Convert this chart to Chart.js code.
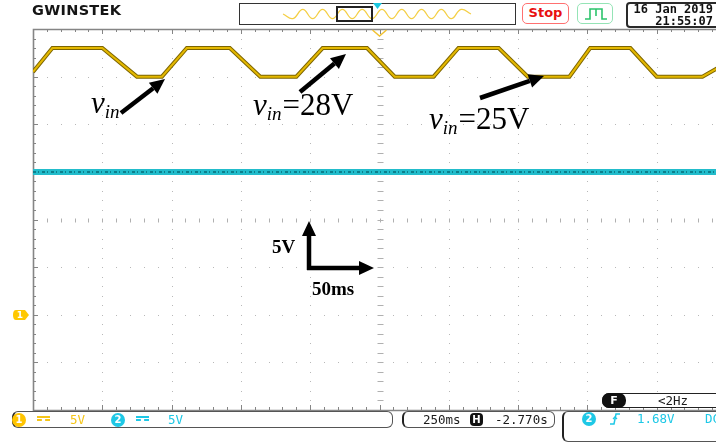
<!DOCTYPE html>
<html>
<head>
<meta charset="utf-8">
<script src="https://cdn.jsdelivr.net/npm/chart.js@4"></script>
<style>
body { margin:0; width:716px; height:444px; overflow:hidden; background:#fff; position:relative;
       font-family:"DejaVu Sans Mono", monospace; }
#scope { position:absolute; left:0; top:0; }
.box { position:absolute; box-sizing:border-box; background:#fff; }
.txt { position:absolute; white-space:nowrap; font-size:12.5px; line-height:14px; }
.dot { position:absolute; width:14px; height:14px; border-radius:50%; color:#fff; font:bold 10px "DejaVu Sans";
       text-align:center; line-height:14px; }
.dc { position:absolute; width:13px; height:5px; border-top:2px solid; border-bottom:2px dashed; box-sizing:border-box; }
</style>
</head>
<body>
<canvas id="scope" width="740" height="444"></canvas>

<!-- header -->
<div class="txt" style="left:32px;top:2px;font:bold 14.5px 'DejaVu Sans';letter-spacing:0.3px;color:#151515">GWINSTEK</div>
<div class="box" style="left:239px;top:3px;width:277px;height:22px;border:1.5px solid #333;background:transparent"></div>
<canvas id="mini" width="190" height="14" style="position:absolute;left:282px;top:7px"></canvas>
<div class="box" style="left:336px;top:6px;width:37px;height:16px;border:2.5px solid #222;background:transparent"></div>
<svg style="position:absolute;left:373px;top:3px" width="9" height="7"><polygon points="0,0 9,0 4.5,6" fill="#19c6e0"/></svg>
<div class="box" style="left:522px;top:3px;width:47px;height:21px;border:1.5px solid #ff7070;border-radius:5px;
     color:#e81010;font:bold 13px 'DejaVu Sans';text-align:center;line-height:18px">Stop</div>
<div class="box" style="left:577px;top:3px;width:36px;height:21px;border:1.5px solid #95e4b6;border-radius:5px">
  <svg style="position:absolute;left:6px;top:2px" width="24" height="16">
    <polyline points="1,13 6,13 6,3 18,3 18,13 23,13" fill="none" stroke="#2cc46c" stroke-width="1.6"/>
    <polyline points="12,3 12,10" fill="none" stroke="#2cc46c" stroke-width="1.6"/>
  </svg>
</div>
<div class="box" style="left:626px;top:2px;width:100px;height:26px;border:2px solid #2a2a2a;border-radius:4px"></div>
<div class="txt" style="right:3px;top:2px;font-weight:bold;font-size:12px;color:#111">16 Jan 2019</div>
<div class="txt" style="right:3px;top:14px;font-weight:bold;font-size:12px;color:#111">21:55:07</div>

<!-- status bar -->
<div class="box" style="left:12px;top:411px;width:381px;height:17px;border:1.5px solid #555;border-left:2.5px solid #222;border-radius:6px"></div>
<div class="dot" style="left:12px;top:413px;background:#ffc400">1</div>
<div class="dc" style="left:37px;top:416px;color:#f5c518"></div>
<div class="txt" style="left:70px;top:413px;color:#f5c518">5V</div>
<div class="dot" style="left:111px;top:413px;background:#1ec8e6">2</div>
<div class="dc" style="left:136px;top:416px;color:#1ec8e6"></div>
<div class="txt" style="left:168px;top:413px;color:#1ec8e6">5V</div>

<div class="box" style="left:402px;top:411px;width:153px;height:17px;border:1.5px solid #555;border-left:2.5px solid #222;border-radius:6px"></div>
<div class="txt" style="left:423px;top:413px;color:#1a1a1a">250ms</div>
<div class="box" style="left:470px;top:413px;width:13px;height:13px;background:#111;border-radius:4px;color:#fff;
     font:bold 10px 'DejaVu Sans';text-align:center;line-height:13px">H</div>
<div class="txt" style="left:495px;top:413px;color:#1a1a1a">-2.770s</div>

<div class="box" style="left:562px;top:411px;width:170px;height:31px;border:1.5px solid #555;border-left:2.5px solid #222;border-radius:6px"></div>
<div class="dot" style="left:582px;top:412px;background:#1ec8e6">2</div>
<svg style="position:absolute;left:609px;top:412px" width="12" height="14">
  <polyline points="1,12 5,12 7,2 11,2" fill="none" stroke="#1ec8e6" stroke-width="1.5"/>
  <polyline points="4,7 6,5 8,7" fill="none" stroke="#1ec8e6" stroke-width="1.3"/>
</svg>
<div class="txt" style="left:637px;top:412px;color:#1ec8e6">1.68V</div>
<div class="txt" style="left:705px;top:412px;color:#1ec8e6">DC</div>

<div class="box" style="left:602px;top:393px;width:130px;height:15px;border:1.5px solid #222;border-radius:7px"></div>
<div class="box" style="left:602px;top:393px;width:24px;height:15px;background:#111;border-radius:7px;color:#fff;
     font:bold 11px 'DejaVu Sans';text-align:center;line-height:15px">F</div>
<div class="txt" style="left:658px;top:394px;color:#1a1a1a">&lt;2Hz</div>

<script>
// timebase 250 ms/div, 10 divisions; both channels 5 V/div, 8 divisions
const MS_PER_DIV = 250;
const V_PER_DIV = 5;

// CH1 input voltage: flat tops near 28 V, flat bottoms near 25 V
const ch1Times = [0, 70, 250, 375, 465, 555, 710, 820, 950, 1045, 1205, 1305, 1445, 1535, 1680, 1785, 1935, 2010, 2155, 2250, 2415, 2500];
const ch1Volts = [25.5, 28, 28, 25, 25, 28, 28, 25, 25, 28, 28, 25, 25, 28, 28, 25, 25, 28, 28, 25, 25, 26.4];

// CH2 sits flat at its ground level
const ch2Times = [0, 2500];
const ch2Volts = [0, 0];

// memory overview strip (relative amplitude)
const miniWave = [0, -1, 1, -1, 1, -1, 1, -1, 1, -1, 1, -1, 1, -1, 1, -1, 1, -1, 1, 0];

const ch1Points = ch1Times.map((t, i) => ({ x: t, y: ch1Volts[i] }));
const ch2Points = ch2Times.map((t, i) => ({ x: t, y: ch2Volts[i] }));

const graticule = {
    id: 'graticule',
    beforeDatasetsDraw(chart) {
        const { ctx, chartArea: a, scales: { x, y } } = chart;
        ctx.save();
        ctx.fillStyle = '#b8b8b8';
        // dotted vertical division lines
        for (let k = 1; k < 10; k++) {
            const px = Math.round(x.getPixelForValue(k * MS_PER_DIV));
            for (let v = -10; v <= 30; v++)
                ctx.fillRect(px, Math.round(y.getPixelForValue(v)), 1, 1);
        }
        // dotted horizontal division lines
        for (let v = -5; v < 30; v += V_PER_DIV) {
            const py = Math.round(y.getPixelForValue(v));
            for (let t = 0; t <= 2500; t += 50)
                ctx.fillRect(Math.round(x.getPixelForValue(t)), py, 1, 1);
        }
        // minor ticks on the centre cross
        ctx.strokeStyle = '#b0b0b0';
        ctx.lineWidth = 1;
        const cx = Math.round(x.getPixelForValue(1250)) + 0.5;
        const cy = Math.round(y.getPixelForValue(10)) + 0.5;
        ctx.beginPath();
        for (let v = -10; v <= 30; v++) {
            const py = Math.round(y.getPixelForValue(v)) + 0.5;
            ctx.moveTo(cx - 3, py); ctx.lineTo(cx + 3, py);
        }
        for (let t = 0; t <= 2500; t += 50) {
            const px = Math.round(x.getPixelForValue(t)) + 0.5;
            ctx.moveTo(px, cy - 2); ctx.lineTo(px, cy + 2);
        }
        ctx.stroke();
        // frame with ticks
        ctx.strokeStyle = '#858585';
        ctx.beginPath();
        for (let t = 0; t <= 2500; t += 50) {
            const px = Math.round(x.getPixelForValue(t)) + 0.5;
            const len = t % MS_PER_DIV === 0 ? 5 : 3;
            ctx.moveTo(px, a.top); ctx.lineTo(px, a.top + len);
            ctx.moveTo(px, a.bottom); ctx.lineTo(px, a.bottom - len);
        }
        for (let v = -10; v <= 30; v++) {
            const py = Math.round(y.getPixelForValue(v)) + 0.5;
            const len = v % V_PER_DIV === 0 ? 5 : 3;
            ctx.moveTo(a.left, py); ctx.lineTo(a.left + len, py);
        }
        ctx.stroke();
        ctx.lineWidth = 1.6;
        ctx.beginPath();
        ctx.moveTo(a.right, a.top + 0.5); ctx.lineTo(a.left + 0.5, a.top + 0.5);
        ctx.lineTo(a.left + 0.5, a.bottom + 0.5); ctx.lineTo(a.right, a.bottom + 0.5);
        ctx.stroke();
        ctx.restore();
    },
    afterDatasetsDraw(chart) {
        const { ctx, chartArea: a, scales: { x, y } } = chart;
        ctx.save();
        // trigger position chevron
        const cx = x.getPixelForValue(1250);
        ctx.strokeStyle = '#f1c232';
        ctx.lineWidth = 1.5;
        ctx.beginPath();
        ctx.moveTo(cx - 7, a.top + 1); ctx.lineTo(cx, a.top + 7); ctx.lineTo(cx + 7, a.top + 1);
        ctx.stroke();
        // CH1 ground marker
        const gy = Math.round(y.getPixelForValue(0));
        ctx.fillStyle = '#ffc800';
        ctx.beginPath();
        ctx.moveTo(16, gy - 5); ctx.lineTo(25, gy - 5); ctx.lineTo(29, gy);
        ctx.lineTo(25, gy + 5); ctx.lineTo(16, gy + 5);
        ctx.quadraticCurveTo(13, gy + 5, 13, gy); ctx.quadraticCurveTo(13, gy - 5, 16, gy - 5);
        ctx.fill();
        ctx.fillStyle = '#fff';
        ctx.font = 'bold 9px "DejaVu Sans"';
        ctx.textAlign = 'center';
        ctx.textBaseline = 'middle';
        ctx.fillText('1', 20, gy + 0.5);
        ctx.restore();
    }
};

// hand drawn notes on the screenshot
function arrow(ctx, x1, y1, x2, y2) {
    const ang = Math.atan2(y2 - y1, x2 - x1);
    const head = 15, half = 7;
    const bx = x2 - head * Math.cos(ang), by = y2 - head * Math.sin(ang);
    ctx.lineWidth = 4.5;
    ctx.beginPath();
    ctx.moveTo(x1, y1); ctx.lineTo(bx, by);
    ctx.stroke();
    ctx.beginPath();
    ctx.moveTo(x2, y2);
    ctx.lineTo(bx + half * Math.sin(ang), by - half * Math.cos(ang));
    ctx.lineTo(bx - half * Math.sin(ang), by + half * Math.cos(ang));
    ctx.closePath();
    ctx.fill();
}

function vinLabel(ctx, x, y, rest) {
    ctx.font = 'italic 31px "Liberation Serif"';
    ctx.fillText('v', x, y);
    let w = ctx.measureText('v').width;
    ctx.font = 'italic 19px "Liberation Serif"';
    ctx.fillText('in', x + w, y + 5);
    w += ctx.measureText('in').width;
    if (rest) {
        ctx.font = '31px "Liberation Serif"';
        ctx.fillText(rest, x + w + 1, y);
    }
}

const notes = {
    id: 'notes',
    afterDraw(chart) {
        const ctx = chart.ctx;
        ctx.save();
        ctx.fillStyle = '#000';
        ctx.strokeStyle = '#000';
        ctx.textBaseline = 'alphabetic';
        arrow(ctx, 121, 113, 165, 79);
        arrow(ctx, 300, 92, 346, 54);
        arrow(ctx, 480, 98, 544, 76);
        arrow(ctx, 309, 270, 309, 221);
        arrow(ctx, 307, 268, 374, 268);
        vinLabel(ctx, 91, 113, '');
        vinLabel(ctx, 253, 115, '=28V');
        vinLabel(ctx, 429, 129, '=25V');
        ctx.font = 'bold 19px "Liberation Serif"';
        ctx.fillText('5V', 272, 253);
        ctx.fillText('50ms', 312, 295);
        ctx.restore();
    }
};

new Chart(document.getElementById('scope'), {
    type: 'line',
    data: {
        datasets: [
            { data: ch1Points, yAxisID: 'y', borderColor: '#e4b800', borderWidth: 2, order: 0 },
            { data: ch1Points, yAxisID: 'y', borderColor: '#7d6500', borderWidth: 4, order: 1 },
            { data: ch2Points, yAxisID: 'y2', borderColor: '#0d7f8c', borderWidth: 2, borderDash: [3, 2, 1, 3], order: 2 },
            { data: ch2Points, yAxisID: 'y2', borderColor: '#22bccb', borderWidth: 6, order: 3 }
        ]
    },
    options: {
        responsive: false,
        animation: false,
        events: [],
        layout: { padding: { left: 33, top: 29, right: 14, bottom: 34 } },
        elements: { point: { radius: 0 }, line: { tension: 0, borderCapStyle: 'butt' } },
        plugins: { legend: { display: false }, tooltip: { enabled: false } },
        scales: {
            x: { type: 'linear', min: 0, max: 10 * MS_PER_DIV, display: false },
            y: { min: -2 * V_PER_DIV, max: 6 * V_PER_DIV, display: false },
            y2: { min: -5 * V_PER_DIV, max: 3 * V_PER_DIV, display: false }
        }
    },
    plugins: [graticule, notes]
});

new Chart(document.getElementById('mini'), {
    type: 'line',
    data: {
        labels: miniWave.map((v, i) => i),
        datasets: [{ data: miniWave, borderColor: '#f4cf45', borderWidth: 1.3, tension: 0.45, pointRadius: 0 }]
    },
    options: {
        responsive: false,
        animation: false,
        events: [],
        layout: { padding: 1 },
        plugins: { legend: { display: false }, tooltip: { enabled: false } },
        scales: { x: { display: false }, y: { display: false, min: -1.3, max: 1.3 } }
    }
});
</script>
</body>
</html>
